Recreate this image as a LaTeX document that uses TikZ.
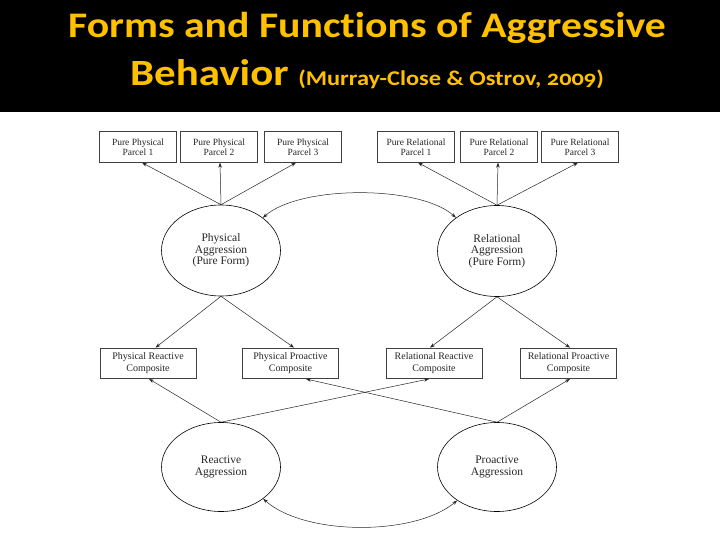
\documentclass[tikz,border=0pt]{standalone}
\usepackage{fontspec}
\setmainfont{Liberation Serif}
\newfontfamily\titlefont[Numbers=OldStyle,FakeStretch=1.16,Ligatures=NoCommon]{Carlito}
\usetikzlibrary{shapes.geometric,arrows.meta}
\definecolor{titleyellow}{HTML}{FFC000}
\begin{document}
\begin{tikzpicture}[x=1pt,y=-1pt,
  pbox/.style={draw=black!75, line width=0.8pt, minimum width=77pt, minimum height=30.5pt, inner sep=0pt, align=center, font=\fontsize{9.5}{10}\selectfont, text=black!85},
  cbox/.style={pbox, minimum width=96pt, font=\fontsize{10}{11.5}\selectfont},
  lat/.style={draw=black, line width=0.6pt, ellipse, inner sep=0pt, minimum width=119pt, minimum height=91pt, align=center, font=\fontsize{11.5}{11.5}\selectfont, text=black!85},
  arr/.style={-{Stealth[length=5pt,width=3.5pt]}, line width=0.5pt, black!85},
  darr/.style={{Stealth[length=5pt,width=3.5pt]}-{Stealth[length=5pt,width=3.5pt]}, line width=0.5pt, black!85},
  ttl/.style={text=titleyellow, anchor=base, inner sep=0pt}
]
\useasboundingbox (0,0) rectangle (720,540);
\fill[white] (0,0) rectangle (720,540);
\fill[black] (0,0) rectangle (720,112);
\node[ttl, font=\titlefont\bfseries\fontsize{36}{36}\selectfont] (t1) at (367,38) {Forms and Functions of Aggressive};
\node[ttl, font=\titlefont\bfseries\fontsize{37}{37}\selectfont] (t2) at (367,86) {Behavior {\fontsize{21}{21}\selectfont (Murray-Close \& Ostrov, 2009)}};

% top boxes
\node[pbox] (b1) at (138,147) {Pure Physical\\Parcel 1};
\node[pbox] (b2) at (219,147) {Pure Physical\\Parcel 2};
\node[pbox] (b3) at (303,147) {Pure Physical\\Parcel 3};
\node[pbox] (b4) at (416,147) {Pure Relational\\Parcel 1};
\node[pbox] (b5) at (499,147) {Pure Relational\\Parcel 2};
\node[pbox] (b6) at (580,147) {Pure Relational\\Parcel 3};

% latent variables
\node[lat] (pe) at (221,250.5) {Physical\\Aggression\\(Pure Form)};
\node[lat] (re) at (497,251) {Relational\\Aggression\\(Pure Form)};
\node[lat, minimum height=89pt] (ra) at (221,467) {Reactive\\Aggression};
\node[lat, minimum height=89pt] (pa) at (497,467) {Proactive\\Aggression};

% composite boxes
\node[cbox] (c1) at (148,363.3) {Physical Reactive\\Composite};
\node[cbox] (c2) at (290.5,363.3) {Physical Proactive\\Composite};
\node[cbox] (c3) at (434,363.3) {Relational Reactive\\Composite};
\node[cbox] (c4) at (568.5,363.3) {Relational Proactive\\Composite};

% loadings
\draw[arr] (pe.north) -- ([xshift=4pt]b1.south);
\draw[arr] (pe.north) -- ([xshift=1pt]b2.south);
\draw[arr] (pe.north) -- ([xshift=-7pt]b3.south);
\draw[arr] (re.north) -- ([xshift=2pt]b4.south);
\draw[arr] (re.north) -- ([xshift=-1pt]b5.south);
\draw[arr] (re.north) -- ([xshift=-2pt]b6.south);

\draw[arr] (pe.south) -- ([xshift=7.5pt]c1.north);
\draw[arr] (pe.south) -- ([xshift=3.5pt]c2.north);
\draw[arr] (re.south) -- ([xshift=-4pt]c3.north);
\draw[arr] (re.south) -- ([xshift=1.5pt]c4.north);

\draw[arr] (ra.north) -- ([xshift=1pt]c1.south);
\draw[arr] (ra.north) -- ([xshift=-5pt]c3.south);
\draw[arr] (pa.north) -- ([xshift=15.5pt]c2.south);
\draw[arr] (pa.north) -- ([xshift=1.5pt]c4.south);

% correlations
\draw[darr] (pe.38) .. controls (300,185) and (420,185) .. (re.141);
\draw[darr] (ra.-37) .. controls (305,536) and (415,536) .. (pa.-140);
\end{tikzpicture}
\end{document}
